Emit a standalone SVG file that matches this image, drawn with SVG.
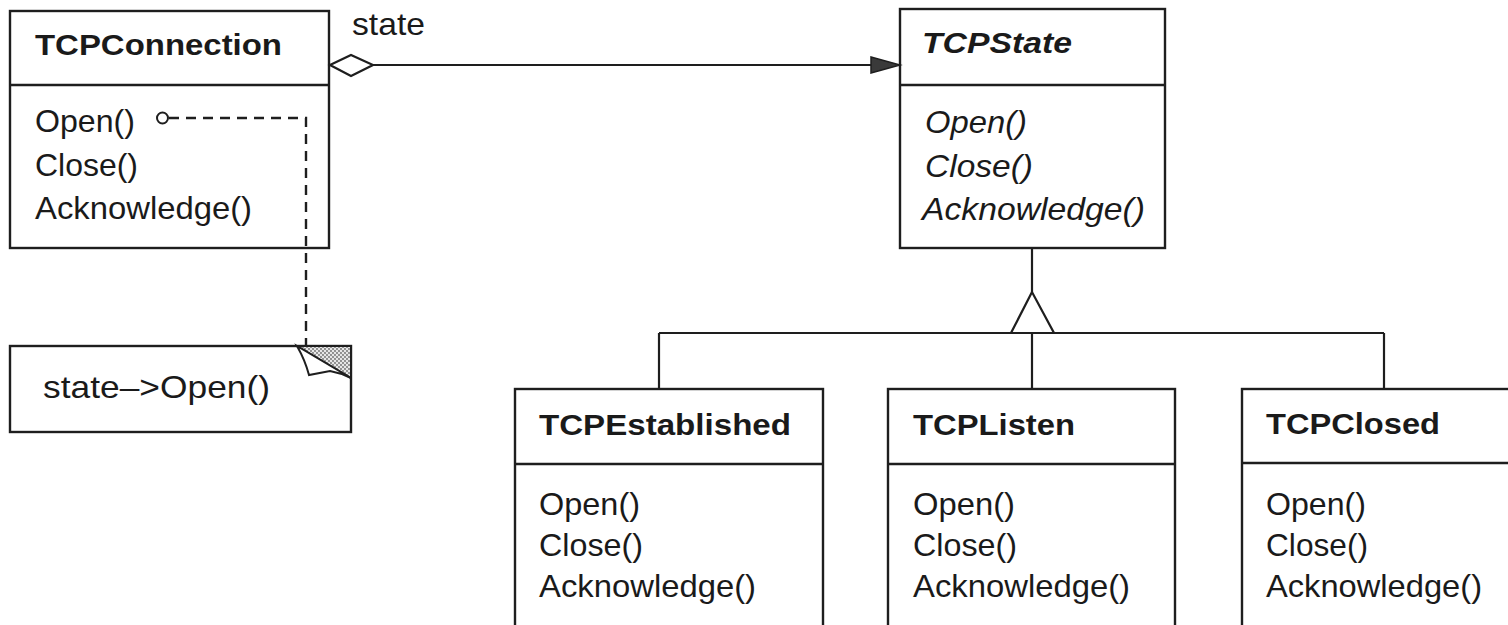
<svg xmlns="http://www.w3.org/2000/svg" width="1508" height="625" viewBox="0 0 1508 625">
  <style>
    .box { fill: #ffffff; stroke: #1e1e1e; stroke-width: 2.4; }
    .div { stroke: #1e1e1e; stroke-width: 2.4; fill: none; }
    .line { stroke: #1e1e1e; stroke-width: 2.2; fill: none; }
    .dash { stroke: #1e1e1e; stroke-width: 2.4; fill: none; stroke-dasharray: 10 7; }
    text { font-family: "Liberation Sans", Arial, Helvetica, sans-serif; fill: #1a1a1a; }
    .hdr { font-size: 29px; font-weight: bold; }
    .op { font-size: 32px; }
    .it { font-style: italic; }
  </style>
  <defs>
    <pattern id="dots" width="4" height="4" patternUnits="userSpaceOnUse">
      <rect width="4" height="4" fill="#e6e6e6"/>
      <circle cx="1" cy="1" r="0.9" fill="#6a6a6a"/>
      <circle cx="3" cy="3" r="0.9" fill="#6a6a6a"/>
    </pattern>
  </defs>
  <rect width="1508" height="625" fill="#ffffff"/>

  <g id="TCPConnection">
    <rect class="box" x="10" y="11" width="319" height="237"/>
    <line class="div" x1="10" y1="85" x2="329" y2="85"/>
    <text x="35" y="55" class="hdr" textLength="247" lengthAdjust="spacingAndGlyphs">TCPConnection</text>
    <text x="35" y="132" class="op" textLength="100" lengthAdjust="spacingAndGlyphs">Open()</text>
    <text x="35" y="176" class="op" textLength="103" lengthAdjust="spacingAndGlyphs">Close()</text>
    <text x="35" y="219" class="op" textLength="217" lengthAdjust="spacingAndGlyphs">Acknowledge()</text>
  </g>

  <g id="note">
    <rect class="box" x="10" y="346" width="341" height="86"/>
    <polygon points="297,346 351,346 351,378" fill="url(#dots)" stroke="#1e1e1e" stroke-width="2"/>
    <path d="M297,346 Q305,360 309,375 L330,371 Q341,373 351,378 Z" fill="#ffffff" stroke="#1e1e1e" stroke-width="2"/>
    <text x="43" y="398" class="op" textLength="227" lengthAdjust="spacingAndGlyphs">state–&gt;Open()</text>
  </g>

  <g id="TCPState">
    <rect class="box" x="900" y="9" width="265" height="239"/>
    <line class="div" x1="900" y1="85" x2="1165" y2="85"/>
    <text x="922" y="53" class="hdr it" textLength="150" lengthAdjust="spacingAndGlyphs">TCPState</text>
    <text x="925" y="133" class="op it" textLength="102" lengthAdjust="spacingAndGlyphs">Open()</text>
    <text x="925" y="177" class="op it" textLength="108" lengthAdjust="spacingAndGlyphs">Close()</text>
    <text x="922" y="220" class="op it" textLength="223" lengthAdjust="spacingAndGlyphs">Acknowledge()</text>
  </g>

  <g id="TCPEstablished">
    <rect class="box" x="515" y="389" width="308" height="260"/>
    <line class="div" x1="515" y1="464" x2="823" y2="464"/>
    <text x="539" y="435" class="hdr" textLength="252" lengthAdjust="spacingAndGlyphs">TCPEstablished</text>
    <text x="539" y="515" class="op" textLength="101" lengthAdjust="spacingAndGlyphs">Open()</text>
    <text x="539" y="556" class="op" textLength="104" lengthAdjust="spacingAndGlyphs">Close()</text>
    <text x="539" y="597" class="op" textLength="217" lengthAdjust="spacingAndGlyphs">Acknowledge()</text>
  </g>

  <g id="TCPListen">
    <rect class="box" x="888" y="389" width="287" height="260"/>
    <line class="div" x1="888" y1="464" x2="1175" y2="464"/>
    <text x="913" y="435" class="hdr" textLength="162" lengthAdjust="spacingAndGlyphs">TCPListen</text>
    <text x="913" y="515" class="op" textLength="102" lengthAdjust="spacingAndGlyphs">Open()</text>
    <text x="913" y="556" class="op" textLength="104" lengthAdjust="spacingAndGlyphs">Close()</text>
    <text x="913" y="597" class="op" textLength="217" lengthAdjust="spacingAndGlyphs">Acknowledge()</text>
  </g>

  <g id="TCPClosed">
    <rect class="box" x="1242" y="389" width="300" height="260"/>
    <line class="div" x1="1242" y1="463" x2="1520" y2="463"/>
    <text x="1266" y="434" class="hdr" textLength="174" lengthAdjust="spacingAndGlyphs">TCPClosed</text>
    <text x="1266" y="515" class="op" textLength="100" lengthAdjust="spacingAndGlyphs">Open()</text>
    <text x="1266" y="556" class="op" textLength="102" lengthAdjust="spacingAndGlyphs">Close()</text>
    <text x="1266" y="597" class="op" textLength="216" lengthAdjust="spacingAndGlyphs">Acknowledge()</text>
  </g>

  <g id="connectors">
    <!-- aggregation TCPConnection -> TCPState -->
    <line class="line" x1="373" y1="65" x2="874" y2="65"/>
    <polygon points="330,65 351,55 373,65 351,76" fill="#ffffff" stroke="#1e1e1e" stroke-width="2.2"/>
    <polygon points="871,57 900,65 871,73" fill="#3a3a3a" stroke="#1e1e1e" stroke-width="1.5"/>
    <text x="352" y="35" class="op" textLength="73" lengthAdjust="spacingAndGlyphs">state</text>
    <!-- generalization -->
    <line class="line" x1="1032" y1="248" x2="1032" y2="292"/>
    <polygon points="1032,292 1011,333 1054,333" fill="#ffffff" stroke="#1e1e1e" stroke-width="2.2"/>
    <line class="line" x1="659" y1="333" x2="1384" y2="333"/>
    <line class="line" x1="659" y1="333" x2="659" y2="389"/>
    <line class="line" x1="1032" y1="333" x2="1032" y2="389"/>
    <line class="line" x1="1384" y1="333" x2="1384" y2="389"/>
    <!-- note link -->
    <polyline class="dash" points="169,118 306,118 306,346"/>
    <circle cx="162.5" cy="118" r="5.5" fill="#ffffff" stroke="#1e1e1e" stroke-width="2"/>
  </g>
</svg>
